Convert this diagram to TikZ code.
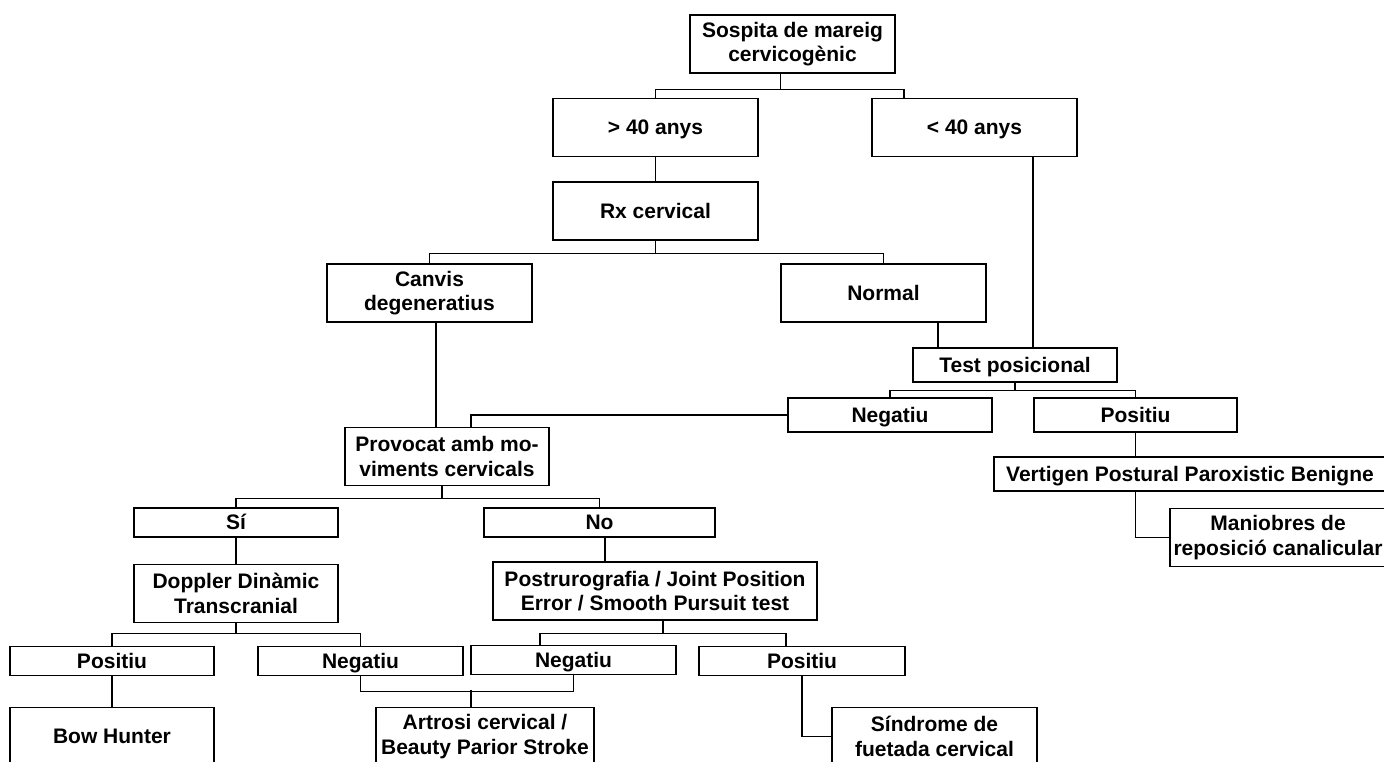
\documentclass[tikz,border=0pt]{standalone}
\usepackage{fontspec}
\setmainfont{Liberation Sans}
\usetikzlibrary{calc}

\begin{document}
\begin{tikzpicture}[x=1pt,y=-1pt]
\tikzstyle{box} = [draw, rectangle, line width=1.3, inner sep=0, align=center, font=\bfseries\fontsize{21}{24.5}\selectfont]
\tikzstyle{one} = [text height=18, text depth=3.5]
\tikzstyle{tall} = [box, minimum height=58]
\tikzstyle{mid} = [box, one, minimum height=34]
\tikzstyle{low} = [box, one, minimum height=29]
\tikzstyle{edge} = [draw, line width=1.3]
\path[use as bounding box, fill=white] (0,0) rectangle (1384,761);
\clip (0,0) rectangle (1384,761);
\node[tall, minimum width=205] (sospita) at (792.5, 44.0) {Sospita de mareig\\cervicogènic};
\node[tall, one, minimum width=205] (over40) at (655.5, 127.5) {> 40 anys};
\node[tall, one, minimum width=205] (under40) at (974.5, 127.5) {< 40 anys};
\node[tall, one, minimum width=205] (rx) at (655.5, 211.0) {Rx cervical};
\node[tall, minimum width=205] (canvis) at (429.5, 293.0) {Canvis\\degeneratius};
\node[tall, one, minimum width=205] (normal) at (883.5, 293.0) {Normal};
\node[mid, minimum width=204] (test) at (1015.0, 365.0) {Test posicional};
\node[mid, minimum width=204] (negR) at (890.0, 415.0) {Negatiu};
\node[mid, minimum width=203] (posR) at (1135.5, 415.0) {Positiu};
\node[mid, minimum width=392] (vppb) at (1190.0, 474.0) {Vertigen Postural Paroxistic Benigne};
\node[tall, minimum width=216] (maniobres) at (1278.0, 537.5) {Maniobres de\\reposició canalicular};
\node[tall, minimum width=204] (provocat) at (447.0, 456.5) {Provocat amb mo-\\viments cervicals};
\node[low, minimum width=204] (si) at (236.0, 522.5) {Sí};
\node[low, minimum width=231] (no) at (599.5, 522.5) {No};
\node[tall, minimum width=204] (doppler) at (236.0, 593.5) {Doppler Dinàmic\\Transcranial};
\node[tall, minimum width=324] (postur) at (655.0, 591.0) {Postrurografia / Joint Position\\Error / Smooth Pursuit test};
\node[low, minimum width=204] (posL) at (112.0, 661.0) {Positiu};
\node[low, minimum width=205] (negL) at (360.5, 661.0) {Negatiu};
\node[low, minimum width=205] (negM) at (573.5, 660.0) {Negatiu};
\node[low, minimum width=206] (posM) at (802.0, 661.0) {Positiu};
\node[tall, one, minimum width=204] (bow) at (112.0, 736.5) {Bow Hunter};
\node[tall, minimum width=218] (artrosi) at (485.0, 736.5) {Artrosi cervical /\\Beauty Parior Stroke};
\node[tall, minimum width=205] (sindrome) at (934.5, 736.5) {Síndrome de\\fuetada cervical};
\draw[edge] ([xshift=-12]sospita.south) -- ++(0,16) -| (over40.north);
\draw[edge] ([xshift=-12]sospita.south) -- ++(0,16) -| ([xshift=-70.5]under40.north);
\draw[edge] (over40.south) -- (rx.north);
\draw[edge] (rx.south) -- ++(0,13) -| (canvis.north);
\draw[edge] (rx.south) -- ++(0,13) -| (normal.north);
\draw[edge] ([xshift=6.5]canvis.south) -- ([xshift=6.5]canvis.south |- provocat.north);
\draw[edge] ([xshift=58.5]under40.south) -- ([xshift=58.5]under40.south |- test.north);
\draw[edge] ([xshift=54.5]normal.south) -- ([xshift=54.5]normal.south |- test.north);
\draw[edge] (test.south) -- ++(0,8) -| (negR.north);
\draw[edge] (test.south) -- ++(0,8) -| (posR.north);
\draw[edge] (negR.west) -| ([xshift=24]provocat.north);
\draw[edge] (posR.south) -- (posR.south |- vppb.north);
\draw[edge] (posR.south |- vppb.south) |- (maniobres.west);
\draw[edge] ([xshift=-5]provocat.south) -- ++(0,12) -| (si.north);
\draw[edge] ([xshift=-5]provocat.south) -- ++(0,12) -| (no.north);
\draw[edge] (si.south) -- (doppler.north);
\draw[edge] ([xshift=5.5]no.south) -- ([xshift=5.5]no.south |- postur.north);
\draw[edge] (doppler.south) -- ++(0,10) -| (posL.north);
\draw[edge] (doppler.south) -- ++(0,10) -| (negL.north);
\draw[edge] ([xshift=8]postur.south) -- ++(0,13) -| ([xshift=-33.5]negM.north);
\draw[edge] ([xshift=8]postur.south) -- ++(0,13) -| ([xshift=-16]posM.north);
\draw[edge] (posL.south) -- (bow.north);
\draw[edge] (negL.south) -- ++(0,15) -| (negM.south);
\draw[edge] ([xshift=-14]artrosi.north) -- ++(0,-17);
\draw[edge] (posM.south) |- (sindrome.west);
\end{tikzpicture}
\end{document}
